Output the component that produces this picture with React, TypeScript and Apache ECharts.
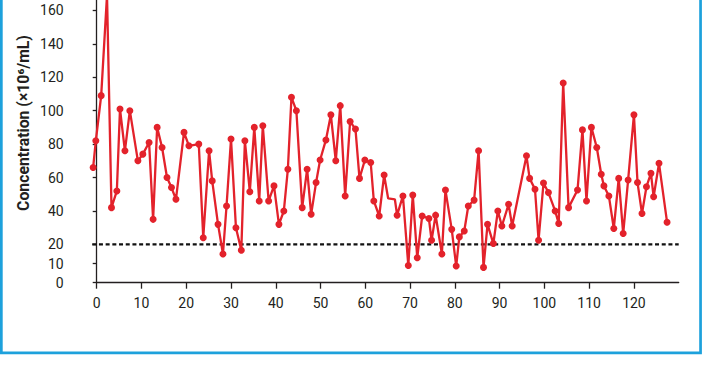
import React, { useEffect, useRef } from "react";
import * as echarts from "echarts";

// Sample positions (x) and concentrations (×10^6/mL)
const xValues = [
  -0.8, -0.2, 1.0, 2.3, 3.3, 4.5, 5.2, 6.3, 7.4, 9.2,
  10.3, 11.7, 12.6, 13.5, 14.6, 15.7, 16.7, 17.7, 19.5, 20.6,
  22.8, 23.8, 25.1, 25.8, 27.1, 28.2, 29.0, 30.0, 31.1, 32.3,
  33.1, 34.2, 35.2, 36.3, 37.1, 38.4, 39.6, 40.7, 41.8, 42.7,
  43.5, 44.6, 45.9, 47.0, 47.9, 49.0, 49.9, 51.2, 52.3, 53.4,
  54.4, 55.5, 56.6, 57.8, 58.7, 59.9, 61.2, 61.9, 63.1, 64.2,
  65.1, 66.6, 67.1, 68.4, 69.6, 70.6, 71.6, 72.7, 74.2, 74.8,
  75.7, 77.1, 77.9, 79.3, 80.3, 81.0, 82.1, 83.0, 84.3, 85.3,
  86.4, 87.3, 88.6, 89.6, 90.5, 92.0, 92.8, 96.0, 96.7, 97.9,
  98.7, 99.8, 100.9, 102.4, 103.2, 104.2, 105.4, 107.4, 108.5, 109.4,
  110.5, 111.7, 112.7, 113.3, 114.4, 115.5, 116.6, 117.6, 118.7, 120.0,
  120.8, 121.8, 122.8, 123.8, 124.4, 125.6, 127.4,
];

const concentrations = [
  66, 82, 109, 169, 42, 52, 101, 76, 100, 70,
  74, 81, 35, 90, 78, 60, 54, 47, 87, 79,
  80, 24, 76, 58, 32, 15, 43, 83, 30, 17,
  82, 51.5, 90, 46, 91, 46, 55, 32, 40, 65,
  108, 100, 42, 65, 38, 57, 70.5, 82.5, 97.5, 70,
  103, 49, 93.5, 89, 59.5, 70.5, 69, 46, 37, 61.5,
  47.5, 47, 37.5, 49, 9, 49.5, 13, 37, 35.5, 22.5,
  37.5, 15, 52.5, 29, 8.7, 24.5, 28, 43, 46.5, 76,
  8, 32, 20.5, 40, 31, 44, 31, 73, 59.5, 53,
  22.5, 56.7, 51, 40, 32.5, 116.5, 42, 52.5, 88.5, 46,
  90, 78, 62, 55, 49, 29.5, 59.5, 26.5, 58.5, 97.5,
  57, 38.5, 54.5, 62.5, 48.5, 68.5, 33.3,
];

// Points drawn as plain line vertices (no marker) in the reference
const unmarkedPoints = [60, 61];

const yTickLabels = [0, 10, 20, 40, 60, 80, 100, 120, 140, 160];
const xTickLabels = [0, 10, 20, 30, 40, 50, 60, 70, 80, 90, 100, 110, 120];

const thresholdValue = 20;
const thresholdSpan = [-1, 130];

const yTitle = "Concentration (\u00D710\u2076/mL)";

// The reference's y axis is stretched below 20 (broken scale)
const BREAK = 20;
const STRETCH = 1.145;
const toAxis = (v: number) => (v >= BREAK ? v : BREAK - (BREAK - v) * STRETCH);
const fromAxis = (a: number) => (a >= BREAK ? a : BREAK - (BREAK - a) / STRETCH);

const RED = "#E3222B";
const INK = "#231F20";
const FRAME = "#1DA1DC";

export default function App() {
  const ref = useRef<HTMLDivElement>(null);

  useEffect(() => {
    if (!ref.current) return;
    const chart = echarts.init(ref.current, undefined, { renderer: "svg" });

    const lineData = xValues.map((x, i) => ({
      value: [x, toAxis(concentrations[i])],
      symbolSize: unmarkedPoints.includes(i) ? 0 : 7,
    }));

    const axisFont = { fontFamily: "Roboto", fontSize: 14, color: INK };
    const axisStroke = { color: INK, width: 1.3 };

    chart.setOption({
      animation: false,
      backgroundColor: "#ffffff",
      grid: [
        // plotting grid: starts at the y axis
        { left: 73.7, right: 23.3, top: 0, bottom: 87.3 },
        // grid carrying the visible x axis, which starts at 0
        { left: 96.7, right: 23.3, top: 0, bottom: 87.3 },
      ],
      xAxis: [
        {
          type: "value",
          gridIndex: 0,
          min: -5.14,
          max: 130,
          show: false,
        },
        {
          type: "value",
          gridIndex: 1,
          min: 0,
          max: 130,
          axisLine: { show: true, lineStyle: axisStroke },
          axisTick: { show: true, length: 6, customValues: xTickLabels, lineStyle: axisStroke },
          axisLabel: { ...axisFont, margin: 13, customValues: xTickLabels },
          splitLine: { show: false },
        },
      ],
      yAxis: [
        {
          type: "value",
          gridIndex: 0,
          min: toAxis(0),
          max: 166.2,
          axisLine: { show: true, lineStyle: axisStroke },
          axisTick: {
            show: true,
            length: 4,
            customValues: yTickLabels.map(toAxis),
            lineStyle: axisStroke,
          },
          axisLabel: {
            ...axisFont,
            margin: 10,
            customValues: yTickLabels.map(toAxis),
            formatter: (v: number) => String(Math.round(fromAxis(v))),
          },
          splitLine: { show: false },
        },
        { type: "value", gridIndex: 1, min: 0, max: 1, show: false },
      ],
      graphic: [
        {
          type: "rect",
          silent: true,
          shape: { x: 1.35, y: -10, width: 699.2, height: 362.9 },
          style: { fill: "none", stroke: FRAME, lineWidth: 2.7 },
        },
        {
          type: "text",
          silent: true,
          x: 23,
          y: 123,
          rotation: Math.PI / 2,
          style: {
            text: yTitle,
            font: "bold 15.8px Roboto",
            fill: INK,
            align: "center",
            verticalAlign: "middle",
          },
        },
      ],
      series: [
        {
          type: "line",
          xAxisIndex: 0,
          yAxisIndex: 0,
          data: thresholdSpan.map((x) => [x, toAxis(thresholdValue)]),
          symbol: "none",
          clip: false,
          silent: true,
          z: 2,
          lineStyle: { color: "#111111", width: 2.3, type: [4, 2.7] },
        },
        {
          type: "line",
          xAxisIndex: 0,
          yAxisIndex: 0,
          data: lineData,
          symbol: "circle",
          symbolSize: 7,
          clip: false,
          z: 3,
          lineStyle: { color: RED, width: 2.3 },
          itemStyle: { color: RED },
        },
      ],
    });

    return () => chart.dispose();
  }, []);

  return (
    <div
      ref={ref}
      style={{ position: "fixed", left: 0, top: 0, width: 702, height: 370, background: "#fff" }}
    />
  );
}
